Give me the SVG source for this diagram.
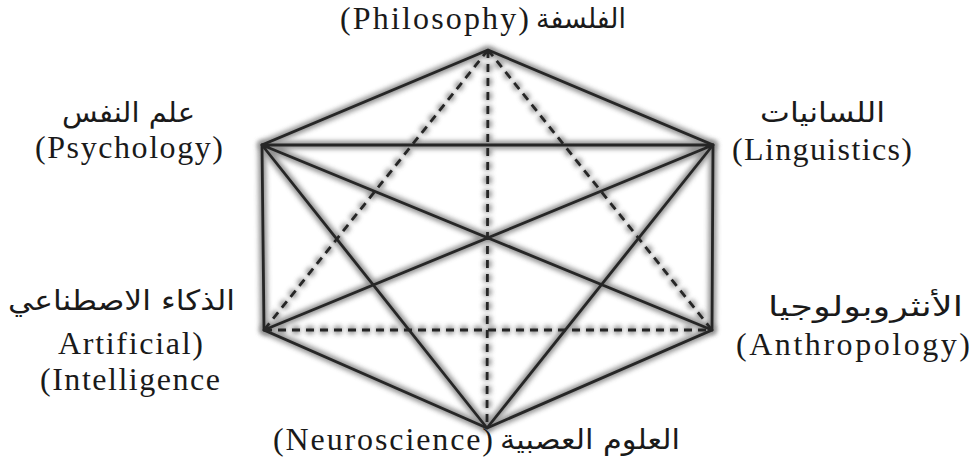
<svg xmlns="http://www.w3.org/2000/svg" width="976" height="473" viewBox="0 0 976 473">
<style>
.en{font-family:"Liberation Serif","Times New Roman",serif;font-size:32px;fill:#1a1a1a}
.ar{font-family:"DejaVu Sans","Noto Sans",sans-serif;font-size:28px;fill:#1a1a1a}
.sh{stroke:#777;stroke-width:8;fill:none;filter:url(#blur);stroke-linecap:round}
.ln{stroke:#262626;stroke-width:2.8;fill:none;stroke-linecap:round}
.d{stroke-dasharray:8 6;stroke-linecap:butt}
</style>
<defs>
<filter id="blur" x="-10%" y="-10%" width="120%" height="120%"><feGaussianBlur stdDeviation="2.5"/></filter>
</defs>
<g id="connectors">
<g opacity="0.8">
<path class="sh" d="M488,50 L262,145 L264,330 L487,428 L712,330 L713,145 Z"/>
<path class="sh" d="M262,145 L713,145 M262,145 L712,330 M713,145 L264,330 M262,145 L487,428 M713,145 L487,428"/>
<path class="sh d" d="M488,50 L487,428 M488,50 L264,330 M488,50 L712,330 M264,330 L712,330"/>
</g>
<path class="ln" d="M488,50 L262,145 L264,330 L487,428 L712,330 L713,145 Z"/>
<path class="ln" d="M262,145 L713,145 M262,145 L712,330 M713,145 L264,330 M262,145 L487,428 M713,145 L487,428"/>
<path class="ln d" d="M488,50 L487,428 M488,50 L264,330 M488,50 L712,330 M264,330 L712,330"/>
</g>
<g id="philosophy">
<text class="en" x="340" y="29" textLength="189" lengthAdjust="spacing">(Philosophy)</text>
<text class="ar" x="536" y="28" textLength="90" lengthAdjust="spacingAndGlyphs">الفلسفة</text>
</g>
<g id="psychology">
<text class="ar" x="62" y="122" textLength="133" lengthAdjust="spacingAndGlyphs">علم النفس</text>
<text class="en" x="35" y="158" textLength="188" lengthAdjust="spacing">(Psychology)</text>
</g>
<g id="linguistics">
<text class="ar" x="760" y="122" textLength="125" lengthAdjust="spacingAndGlyphs">اللسانيات</text>
<text class="en" x="732" y="160" textLength="180" lengthAdjust="spacing">(Linguistics)</text>
</g>
<g id="ai">
<text class="ar" x="8" y="310" textLength="227" lengthAdjust="spacingAndGlyphs">الذكاء الاصطناعي</text>
<text class="en" x="58" y="354" textLength="145" lengthAdjust="spacing">Artificial)</text>
<text class="en" x="40" y="390" textLength="180" lengthAdjust="spacing">(Intelligence</text>
</g>
<g id="anthropology">
<text class="ar" x="768" y="316" textLength="195" lengthAdjust="spacingAndGlyphs">الأنثروبولوجيا</text>
<text class="en" x="736" y="355" textLength="234" lengthAdjust="spacing">(Anthropology)</text>
</g>
<g id="neuroscience">
<text class="en" x="273" y="450" textLength="220" lengthAdjust="spacing">(Neuroscience)</text>
<text class="ar" x="500" y="449" textLength="180" lengthAdjust="spacingAndGlyphs">العلوم العصبية</text>
</g>
</svg>
